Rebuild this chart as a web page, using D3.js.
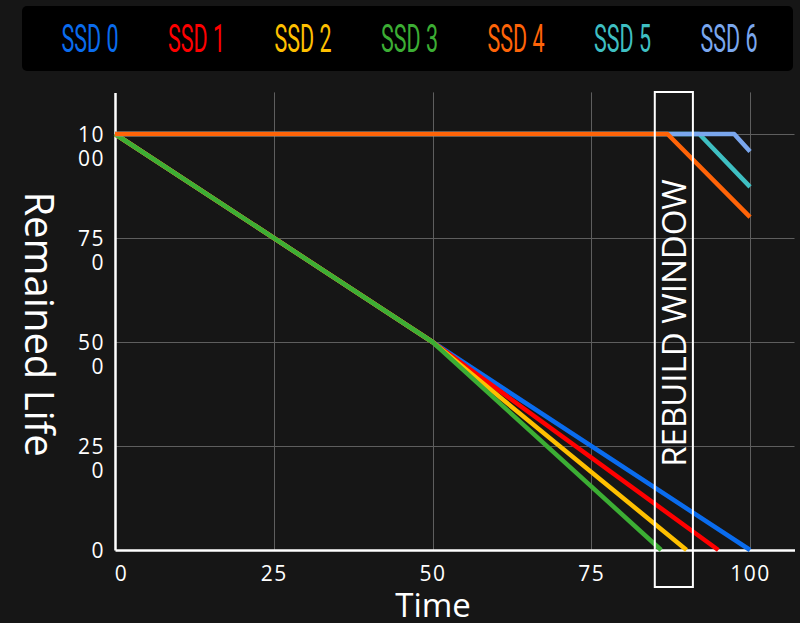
<!DOCTYPE html>
<html>
<head>
<meta charset="utf-8">
<script src="https://cdn.jsdelivr.net/npm/d3@7"></script>
<style>
  html, body { margin: 0; padding: 0; background: #161616; }
  svg { display: block; }
</style>
</head>
<body>
<script>
// series names + colours
var names = ["SSD 0", "SSD 1", "SSD 2", "SSD 3", "SSD 4", "SSD 5", "SSD 6"];
var colors = ["#0a6cee", "#ff0000", "#ffc000", "#3cae34", "#ff6408", "#3fbfc2", "#7aa7ee"];

// time / remained life points per ssd
var ssd0 = [[0, 1000], [50, 500], [100, 0]];
var ssd1 = [[0, 1000], [50, 500], [95, 0]];
var ssd2 = [[0, 1000], [50, 500], [90, 0]];
var ssd3 = [[0, 1000], [50, 500], [86, 0]];
var ssd4 = [[0, 1000], [87, 1000], [100, 800]];
var ssd5 = [[0, 1000], [92, 1000], [100, 873]];
var ssd6 = [[0, 1000], [97.5, 1000], [100, 958]];
var allSeries = [ssd0, ssd1, ssd2, ssd3, ssd4, ssd5, ssd6];
var drawOrder = [0, 1, 2, 3, 5, 6, 4];

var xTicks = [0, 25, 50, 75, 100];
var yTicks = [0, 250, 500, 750, 1000];
// labels wrap in the original
var yTickLabels = [["0"], ["25", "0"], ["50", "0"], ["75", "0"], ["10", "00"]];
var rebuildWindow = [85, 91];

var W = 800, H = 623;
var x = d3.scaleLinear().domain([0, 107]).range([115, 794.5]);
var y = d3.scaleLinear().domain([0, 1100]).range([550, 92.4]);

var svg = d3.select("body").append("svg")
    .attr("width", W)
    .attr("height", H);

svg.append("rect")
    .attr("width", W).attr("height", H)
    .attr("fill", "#161616");

// legend
var legend = svg.append("g");
legend.append("rect")
    .attr("x", 22).attr("y", 6)
    .attr("width", 771).attr("height", 65)
    .attr("rx", 5)
    .attr("fill", "#000");

legend.selectAll("text")
    .data(names)
    .enter().append("text")
    .attr("x", function(d, i) { return 90 + i * 106.5 - 28.5; })
    .attr("y", 52)
    .attr("textLength", 57)
    .attr("lengthAdjust", "spacingAndGlyphs")
    .attr("font-family", "Roboto")
    .attr("font-weight", 400)
    .attr("font-size", 38)
    .attr("fill", function(d, i) { return colors[i]; })
    .text(function(d) { return d; });

// grid
var grid = svg.append("g").attr("stroke", "#5e5e5e").attr("stroke-width", 1);
grid.selectAll(".vg")
    .data(xTicks.slice(1))
    .enter().append("line")
    .attr("x1", function(d) { return Math.round(x(d)) + 0.5; })
    .attr("x2", function(d) { return Math.round(x(d)) + 0.5; })
    .attr("y1", y.range()[1])
    .attr("y2", y.range()[0]);
grid.selectAll(".hg")
    .data(yTicks.slice(1))
    .enter().append("line")
    .attr("y1", function(d) { return Math.round(y(d)) + 0.5; })
    .attr("y2", function(d) { return Math.round(y(d)) + 0.5; })
    .attr("x1", x.range()[0])
    .attr("x2", x.range()[1]);

// axes
var xAxis = svg.append("g")
    .attr("transform", "translate(0," + y(0) + ")")
    .call(d3.axisBottom(x).tickValues(xTicks).tickSize(0).tickSizeOuter(0).tickPadding(31));
var yAxis = svg.append("g")
    .attr("transform", "translate(" + x(0) + ",0)")
    .call(d3.axisLeft(y).tickValues(yTicks).tickSize(0).tickSizeOuter(0).tickFormat(""));

[xAxis, yAxis].forEach(function(a) {
  a.select(".domain").attr("stroke", "#fff").attr("stroke-width", 2.5);
  a.selectAll("text")
    .attr("fill", "#fff")
    .attr("font-family", "Open Sans")
    .attr("font-size", 21)
    .attr("letter-spacing", 1.5);
});
xAxis.selectAll("text").attr("dy", 0);
xAxis.selectAll(".tick text").filter(function(d) { return d === 0; }).attr("x", 6);

yAxis.selectAll(".tick text")
    .attr("x", -10)
    .attr("text-anchor", "end")
    .attr("dy", null)
    .each(function(d) {
      var lines = yTickLabels[yTicks.indexOf(d)];
      var t = d3.select(this);
      lines.forEach(function(s, j) {
        t.append("tspan")
          .attr("x", -10)
          .attr("dy", j === 0 ? "0.36em" : 24)
          .text(s);
      });
    });

// lines
var line = d3.line()
    .x(function(d) { return x(d[0]); })
    .y(function(d) { return y(d[1]); });

svg.append("g").selectAll("path")
    .data(drawOrder)
    .enter().append("path")
    .attr("d", function(i) { return line(allSeries[i]); })
    .attr("fill", "none")
    .attr("stroke", function(i) { return colors[i]; })
    .attr("stroke-width", 4.5)
    .attr("stroke-linejoin", "round");

// rebuild window
var rw = svg.append("g");
rw.append("rect")
    .attr("x", x(rebuildWindow[0]))
    .attr("y", 92)
    .attr("width", x(rebuildWindow[1]) - x(rebuildWindow[0]))
    .attr("height", 587 - 92)
    .attr("fill", "none")
    .attr("stroke", "#fff")
    .attr("stroke-width", 2);
rw.append("text")
    .attr("transform", "translate(" + ((x(rebuildWindow[0]) + x(rebuildWindow[1])) / 2 + 12) + ",323) rotate(-90)")
    .attr("text-anchor", "middle")
    .attr("font-family", "Open Sans")
    .attr("font-weight", 500)
    .attr("font-size", 33)
    .attr("fill", "#fff")
    .text("REBUILD WINDOW");

// axis titles
svg.append("text")
    .attr("x", 433).attr("y", 617)
    .attr("text-anchor", "middle")
    .attr("font-family", "Open Sans")
    .attr("font-weight", 500)
    .attr("font-size", 33)
    .attr("fill", "#fff")
    .text("Time");

svg.append("text")
    .attr("transform", "translate(25,324) rotate(90)")
    .attr("text-anchor", "middle")
    .attr("font-family", "Open Sans")
    .attr("font-weight", 500)
    .attr("font-size", 40)
    .attr("fill", "#fff")
    .text("Remained Life");
</script>
</body>
</html>
